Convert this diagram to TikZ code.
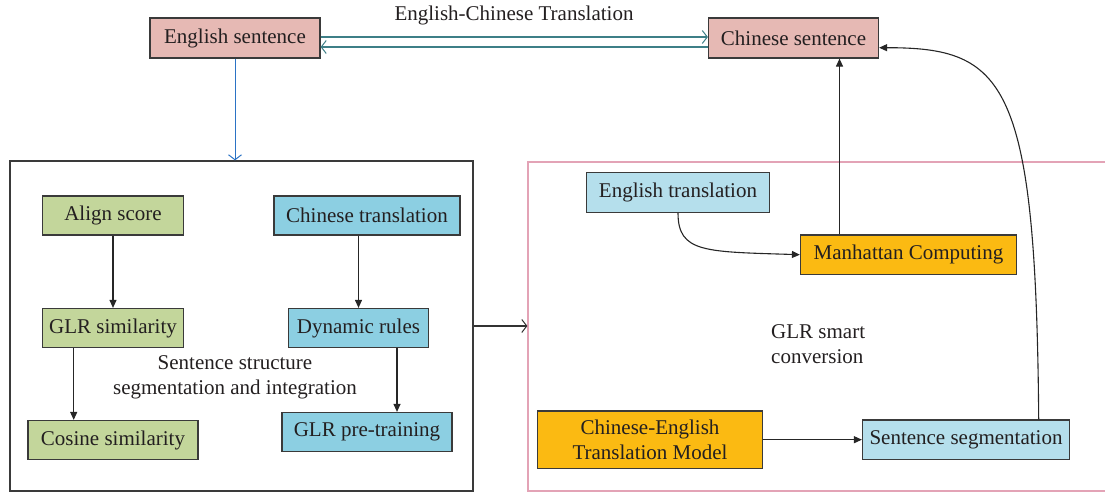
\documentclass[tikz,border=0pt]{standalone}
\usepackage{fontspec}
\setmainfont{Liberation Serif}
\usetikzlibrary{arrows.meta}
\definecolor{pinkc}{HTML}{E6B9B4}
\definecolor{greenc}{HTML}{C3D69B}
\definecolor{bluec}{HTML}{8CCFE2}
\definecolor{lbluec}{HTML}{B5DFEC}
\definecolor{orangec}{HTML}{FBBA12}
\definecolor{boxline}{HTML}{3A3A3A}
\definecolor{tealc}{HTML}{3E7F87}
\definecolor{bluearr}{HTML}{2B73C5}
\definecolor{pinkline}{HTML}{E3A3B6}
\definecolor{txt}{HTML}{231F20}
\tikzset{
  fbox/.style={draw=boxline, line width=1.2pt, inner sep=0pt, align=center,
    font=\fontsize{21}{25}\selectfont, text=txt},
  lbl/.style={inner sep=0pt, font=\fontsize{21}{25}\selectfont, text=txt},
  openarr/.style={-{Straight Barb[length=5pt,width=13pt,line width=1pt]}, line width=1.1pt},
  fillarr/.style={-{Triangle[length=8pt,width=7pt]}, line width=1.1pt, draw=black!85},
}
\begin{document}
\begin{tikzpicture}[x=1pt,y=-1pt]
\useasboundingbox (0,0) rectangle (1105,492);
% containers
\node[draw=boxline, line width=1.2pt, minimum width=463pt, minimum height=330pt, inner sep=0pt] (bigL) at (241.5,326) {};
\node[draw=pinkline, line width=1.2pt, minimum width=600pt, minimum height=329pt, inner sep=0pt] (bigR) at (828,326.5) {};
% top
\node[fbox, fill=pinkc, minimum width=170pt, minimum height=40pt] (es) at (235,38) {English sentence};
\node[fbox, fill=pinkc, minimum width=170pt, minimum height=40pt] (cs) at (793.5,38) {Chinese sentence};
\node[lbl] (title) at (514,15) {English-Chinese Translation};
% left box
\node[fbox, fill=greenc, minimum width=141pt, minimum height=39pt] (align) at (113,215.5) {Align score};
\node[fbox, fill=bluec, minimum width=186pt, minimum height=39pt] (ctr) at (367,215.5) {Chinese translation};
\node[fbox, fill=greenc, minimum width=141pt, minimum height=39pt] (glrsim) at (113,328) {GLR similarity};
\node[fbox, fill=bluec, minimum width=140pt, minimum height=39pt] (dyn) at (358.5,328) {Dynamic rules};
\node[fbox, fill=greenc, minimum width=170pt, minimum height=39pt] (cos) at (113,440) {Cosine similarity};
\node[fbox, fill=bluec, minimum width=170pt, minimum height=39pt] (pre) at (367,432) {GLR pre-training};
\node[lbl, align=center] (sst) at (235,377.5) {Sentence structure\\segmentation and integration};
% right box
\node[fbox, fill=lbluec, minimum width=183pt, minimum height=39.5pt] (etr) at (678,192.5) {English translation};
\node[fbox, fill=orangec, minimum width=216pt, minimum height=39.5pt] (man) at (908.5,254.7) {Manhattan Computing};
\node[fbox, fill=orangec, minimum width=225pt, minimum height=57.5pt] (cem) at (650,439.7) {Chinese-English\\Translation Model};
\node[fbox, fill=lbluec, minimum width=207pt, minimum height=39.5pt] (seg) at (966,439.7) {Sentence segmentation};
\node[lbl, align=left, anchor=west] (glr) at (771,344) {GLR smart\\conversion};
% connectors
\draw[openarr, draw=tealc] ([yshift=1pt]es.east) -- ([yshift=1pt]cs.west);
\draw[openarr, draw=tealc] ([yshift=-9pt]cs.west) -- ([yshift=-9pt]es.east);
\draw[openarr, draw=bluearr, line width=0.9pt] (es.south) -- (es.south |- bigL.north);
\draw[openarr, draw=black!80] (bigL.east) -- (bigL.east -| bigR.west);
\draw[fillarr] (align.south) -- (glrsim.north);
\draw[fillarr] (dyn.north |- ctr.south) -- (dyn.north);
\draw[fillarr] ([xshift=-39.3pt]glrsim.south) -- ([xshift=-39.3pt]glrsim.south |- cos.north);
\draw[fillarr] ([xshift=38.5pt]dyn.south) -- ([xshift=38.5pt]dyn.south |- pre.north);
\draw[fillarr] ([xshift=-69pt]man.north) -- ([xshift=-69pt]man.north |- cs.south);
\draw[fillarr] (etr.south) .. controls ([yshift=-40pt]etr.south) and ([xshift=-95pt,yshift=3pt]man.west) .. (man.west);
\draw[fillarr] (cem.east) -- (seg.west);
\draw[fillarr] ([xshift=72.7pt]seg.north) .. controls (1036,80) and (1005,47.7) .. ([yshift=-9.7pt]cs.east);
\end{tikzpicture}
\end{document}
